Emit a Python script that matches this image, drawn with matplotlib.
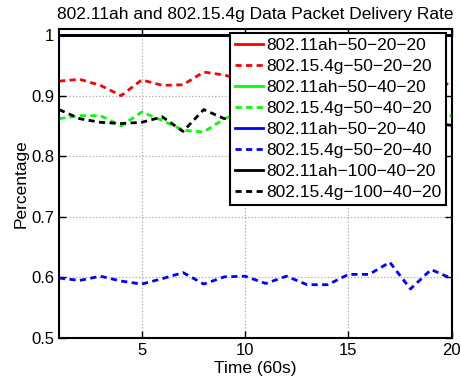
import numpy as np
import matplotlib
matplotlib.use("Agg")
import matplotlib.pyplot as plt

plt.rcParams["font.family"] = ["Liberation Sans", "DejaVu Sans"]

# time steps (60s each)
time = np.arange(1, 21)

# delivery rates (values 10-19 of the upper series sit behind the legend)
ah_50_20_20 = [1.0] * 20
g_50_20_20 = [0.924, 0.927, 0.917, 0.900, 0.926, 0.917, 0.918, 0.939, 0.934, 0.925,
              0.920, 0.928, 0.922, 0.915, 0.925, 0.930, 0.921, 0.918, 0.924, 0.918]
ah_50_40_20 = [1.0] * 20
g_50_40_20 = [0.862, 0.867, 0.867, 0.850, 0.873, 0.859, 0.843, 0.840, 0.862, 0.875,
              0.868, 0.860, 0.872, 0.865, 0.858, 0.870, 0.864, 0.861, 0.866, 0.867]
ah_50_20_40 = [1.0] * 20
g_50_20_40 = [0.599, 0.595, 0.602, 0.594, 0.589, 0.598, 0.608, 0.589, 0.601, 0.602,
              0.590, 0.602, 0.588, 0.588, 0.605, 0.605, 0.625, 0.581, 0.613, 0.598]
ah_100_40_20 = [1.0] * 20
g_100_40_20 = [0.877, 0.862, 0.856, 0.854, 0.856, 0.865, 0.841, 0.877, 0.862, 0.870,
               0.858, 0.866, 0.855, 0.862, 0.857, 0.860, 0.853, 0.858, 0.855, 0.851]

series = [
    ("802.11ah\u221250\u221220\u221220", ah_50_20_20, "#ff0000", "-"),
    ("802.15.4g\u221250\u221220\u221220", g_50_20_20, "#ff0000", "--"),
    ("802.11ah\u221250\u221240\u221220", ah_50_40_20, "#00ff00", "-"),
    ("802.15.4g\u221250\u221240\u221220", g_50_40_20, "#00ff00", "--"),
    ("802.11ah\u221250\u221220\u221240", ah_50_20_40, "#0000ff", "-"),
    ("802.15.4g\u221250\u221220\u221240", g_50_20_40, "#0000ff", "--"),
    ("802.11ah\u2212100\u221240\u221220", ah_100_40_20, "#000000", "-"),
    ("802.15.4g\u2212100\u221240\u221220", g_100_40_20, "#000000", "--"),
]

fig = plt.figure(figsize=(4.61, 3.87), dpi=100)
ax = fig.add_axes([0.128, 0.1266, 0.852, 0.7984])

for label, vals, color, ls in series:
    line, = ax.plot(time, vals, color=color, linestyle=ls, linewidth=2, label=label)
    if ls == "--":
        line.set_dashes((2.2, 1.6))

ax.set_xlim(1, 20)
ax.set_ylim(0.5, 1.01)
ax.set_xticks([5, 10, 15, 20])
ax.set_yticks([0.5, 0.6, 0.7, 0.8, 0.9, 1.0])
ax.set_yticklabels(["0.5", "0.6", "0.7", "0.8", "0.9", "1"])
ax.tick_params(direction="in", top=True, right=True, length=5, width=1, labelsize=12)
ax.grid(True, linestyle=":", color="#aaaaaa", linewidth=0.9)
for sp in ax.spines.values():
    sp.set_linewidth(1.5)

ax.set_title("802.11ah and 802.15.4g Data Packet Delivery Rate", fontsize=12.5, pad=7)
ax.set_xlabel("Time (60s)", fontsize=12.5, labelpad=2)
ax.set_ylabel("Percentage", fontsize=12.5, labelpad=2)

leg = ax.legend(loc="upper right", bbox_to_anchor=(0.9865, 0.987), borderaxespad=0,
                fontsize=12.5, fancybox=False, framealpha=1, edgecolor="black",
                handlelength=1.6, handletextpad=0.2, labelspacing=0.33,
                borderpad=0.3)
leg.get_frame().set_linewidth(1.5)

fig.savefig("out.png", dpi=100)
